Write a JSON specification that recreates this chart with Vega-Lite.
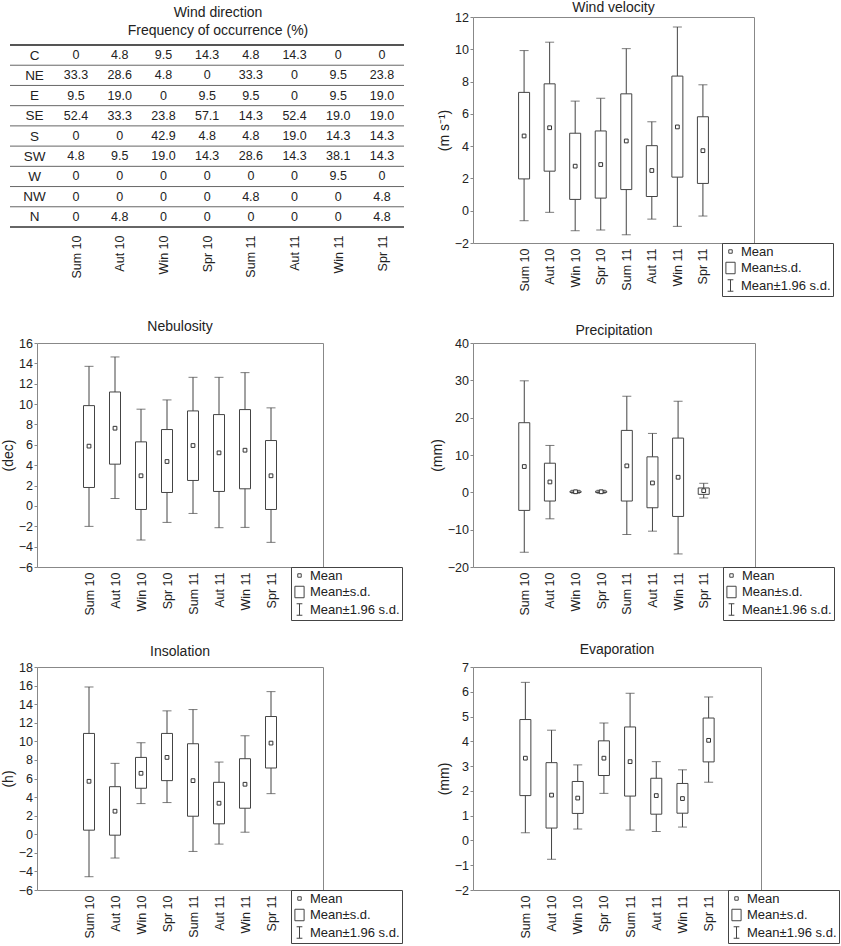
{
  "$schema": "https://vega.github.io/schema/vega-lite/v6.json",
  "padding": {"left": 0, "top": 0, "right": 0, "bottom": 0},
  "bounds": "flush",
  "columns": 2,
  "spacing": {"row": 100, "column": 150},
  "resolve": {"scale": {"shape": "independent"}, "legend": {"shape": "independent"}},
  "config": {
    "font": "Liberation Sans",
    "view": {"stroke": "#888", "strokeWidth": 1},
    "axis": {"labelFont": "Liberation Sans", "labelFontSize": 12.5, "labelColor": "#222", "titleFont": "Liberation Sans", "titleFontSize": 14, "titleFontWeight": "normal", "titleColor": "#222", "grid": false, "domain": false, "tickColor": "#888", "tickSize": 3, "labelPadding": 1.5, "titlePadding": 3, "labelOverlap": false},
    "title": {"font": "Liberation Sans", "fontSize": 14, "fontWeight": "normal", "color": "#222", "anchor": "middle", "offset": 2},
    "legend": {"orient": "none", "strokeColor": "#444", "padding": 2, "labelFont": "Liberation Sans", "labelFontSize": 13, "labelColor": "#222", "symbolSize": 132, "symbolStrokeWidth": 1, "rowPadding": 0.5, "labelOffset": 4}
  },
  "datasets": {
    "legendItems": [{"item": "Mean"}, {"item": "Mean±s.d."}, {"item": "Mean±1.96 s.d."}],
    "windDir": [
      {"dir": "C", "season": "Sum 10", "pct": 0}, {"dir": "C", "season": "Aut 10", "pct": 4.8}, {"dir": "C", "season": "Win 10", "pct": 9.5}, {"dir": "C", "season": "Spr 10", "pct": 14.3}, {"dir": "C", "season": "Sum 11", "pct": 4.8}, {"dir": "C", "season": "Aut 11", "pct": 14.3}, {"dir": "C", "season": "Win 11", "pct": 0}, {"dir": "C", "season": "Spr 11", "pct": 0},
      {"dir": "NE", "season": "Sum 10", "pct": 33.3}, {"dir": "NE", "season": "Aut 10", "pct": 28.6}, {"dir": "NE", "season": "Win 10", "pct": 4.8}, {"dir": "NE", "season": "Spr 10", "pct": 0}, {"dir": "NE", "season": "Sum 11", "pct": 33.3}, {"dir": "NE", "season": "Aut 11", "pct": 0}, {"dir": "NE", "season": "Win 11", "pct": 9.5}, {"dir": "NE", "season": "Spr 11", "pct": 23.8},
      {"dir": "E", "season": "Sum 10", "pct": 9.5}, {"dir": "E", "season": "Aut 10", "pct": 19.0}, {"dir": "E", "season": "Win 10", "pct": 0}, {"dir": "E", "season": "Spr 10", "pct": 9.5}, {"dir": "E", "season": "Sum 11", "pct": 9.5}, {"dir": "E", "season": "Aut 11", "pct": 0}, {"dir": "E", "season": "Win 11", "pct": 9.5}, {"dir": "E", "season": "Spr 11", "pct": 19.0},
      {"dir": "SE", "season": "Sum 10", "pct": 52.4}, {"dir": "SE", "season": "Aut 10", "pct": 33.3}, {"dir": "SE", "season": "Win 10", "pct": 23.8}, {"dir": "SE", "season": "Spr 10", "pct": 57.1}, {"dir": "SE", "season": "Sum 11", "pct": 14.3}, {"dir": "SE", "season": "Aut 11", "pct": 52.4}, {"dir": "SE", "season": "Win 11", "pct": 19.0}, {"dir": "SE", "season": "Spr 11", "pct": 19.0},
      {"dir": "S", "season": "Sum 10", "pct": 0}, {"dir": "S", "season": "Aut 10", "pct": 0}, {"dir": "S", "season": "Win 10", "pct": 42.9}, {"dir": "S", "season": "Spr 10", "pct": 4.8}, {"dir": "S", "season": "Sum 11", "pct": 4.8}, {"dir": "S", "season": "Aut 11", "pct": 19.0}, {"dir": "S", "season": "Win 11", "pct": 14.3}, {"dir": "S", "season": "Spr 11", "pct": 14.3},
      {"dir": "SW", "season": "Sum 10", "pct": 4.8}, {"dir": "SW", "season": "Aut 10", "pct": 9.5}, {"dir": "SW", "season": "Win 10", "pct": 19.0}, {"dir": "SW", "season": "Spr 10", "pct": 14.3}, {"dir": "SW", "season": "Sum 11", "pct": 28.6}, {"dir": "SW", "season": "Aut 11", "pct": 14.3}, {"dir": "SW", "season": "Win 11", "pct": 38.1}, {"dir": "SW", "season": "Spr 11", "pct": 14.3},
      {"dir": "W", "season": "Sum 10", "pct": 0}, {"dir": "W", "season": "Aut 10", "pct": 0}, {"dir": "W", "season": "Win 10", "pct": 0}, {"dir": "W", "season": "Spr 10", "pct": 0}, {"dir": "W", "season": "Sum 11", "pct": 0}, {"dir": "W", "season": "Aut 11", "pct": 0}, {"dir": "W", "season": "Win 11", "pct": 9.5}, {"dir": "W", "season": "Spr 11", "pct": 0},
      {"dir": "NW", "season": "Sum 10", "pct": 0}, {"dir": "NW", "season": "Aut 10", "pct": 0}, {"dir": "NW", "season": "Win 10", "pct": 0}, {"dir": "NW", "season": "Spr 10", "pct": 0}, {"dir": "NW", "season": "Sum 11", "pct": 4.8}, {"dir": "NW", "season": "Aut 11", "pct": 0}, {"dir": "NW", "season": "Win 11", "pct": 0}, {"dir": "NW", "season": "Spr 11", "pct": 4.8},
      {"dir": "N", "season": "Sum 10", "pct": 0}, {"dir": "N", "season": "Aut 10", "pct": 4.8}, {"dir": "N", "season": "Win 10", "pct": 0}, {"dir": "N", "season": "Spr 10", "pct": 0}, {"dir": "N", "season": "Sum 11", "pct": 0}, {"dir": "N", "season": "Aut 11", "pct": 0}, {"dir": "N", "season": "Win 11", "pct": 0}, {"dir": "N", "season": "Spr 11", "pct": 4.8}
    ],
    "stats": [
      {"var": "wind", "season": "Sum 10", "mean": 4.63, "sdLo": 1.97, "sdHi": 7.33, "lo": -0.62, "hi": 9.92},
      {"var": "wind", "season": "Aut 10", "mean": 5.14, "sdLo": 2.45, "sdHi": 7.86, "lo": -0.10, "hi": 10.44},
      {"var": "wind", "season": "Win 10", "mean": 2.76, "sdLo": 0.70, "sdHi": 4.80, "lo": -1.24, "hi": 6.79},
      {"var": "wind", "season": "Spr 10", "mean": 2.86, "sdLo": 0.78, "sdHi": 4.94, "lo": -1.20, "hi": 6.96},
      {"var": "wind", "season": "Sum 11", "mean": 4.32, "sdLo": 1.31, "sdHi": 7.24, "lo": -1.49, "hi": 10.04},
      {"var": "wind", "season": "Aut 11", "mean": 2.49, "sdLo": 0.88, "sdHi": 4.03, "lo": -0.52, "hi": 5.51},
      {"var": "wind", "season": "Win 11", "mean": 5.19, "sdLo": 2.08, "sdHi": 8.34, "lo": -0.97, "hi": 11.38},
      {"var": "wind", "season": "Spr 11", "mean": 3.72, "sdLo": 1.69, "sdHi": 5.82, "lo": -0.33, "hi": 7.80},
      {"var": "neb", "season": "Sum 10", "mean": 5.87, "sdLo": 1.81, "sdHi": 9.85, "lo": -2.01, "hi": 13.71},
      {"var": "neb", "season": "Aut 10", "mean": 7.63, "sdLo": 4.10, "sdHi": 11.19, "lo": 0.73, "hi": 14.63},
      {"var": "neb", "season": "Win 10", "mean": 2.96, "sdLo": -0.35, "sdHi": 6.29, "lo": -3.35, "hi": 9.50},
      {"var": "neb", "season": "Spr 10", "mean": 4.36, "sdLo": 1.32, "sdHi": 7.50, "lo": -1.62, "hi": 10.41},
      {"var": "neb", "season": "Sum 11", "mean": 5.93, "sdLo": 2.50, "sdHi": 9.33, "lo": -0.74, "hi": 12.63},
      {"var": "neb", "season": "Aut 11", "mean": 5.21, "sdLo": 1.42, "sdHi": 8.97, "lo": -2.14, "hi": 12.63},
      {"var": "neb", "season": "Win 11", "mean": 5.47, "sdLo": 1.68, "sdHi": 9.46, "lo": -2.11, "hi": 13.09},
      {"var": "neb", "season": "Spr 11", "mean": 2.96, "sdLo": -0.35, "sdHi": 6.42, "lo": -3.58, "hi": 9.63},
      {"var": "prec", "season": "Sum 10", "mean": 6.91, "sdLo": -4.84, "sdHi": 18.65, "lo": -16.05, "hi": 29.87},
      {"var": "prec", "season": "Aut 10", "mean": 2.78, "sdLo": -2.33, "sdHi": 7.80, "lo": -7.09, "hi": 12.56},
      {"var": "prec", "season": "Win 10", "mean": 0.15, "sdLo": -0.05, "sdHi": 0.35, "lo": -0.25, "hi": 0.55},
      {"var": "prec", "season": "Spr 10", "mean": 0.15, "sdLo": -0.05, "sdHi": 0.35, "lo": -0.25, "hi": 0.55},
      {"var": "prec", "season": "Sum 11", "mean": 7.09, "sdLo": -2.33, "sdHi": 16.59, "lo": -11.30, "hi": 25.74},
      {"var": "prec", "season": "Aut 11", "mean": 2.51, "sdLo": -4.13, "sdHi": 9.51, "lo": -10.40, "hi": 15.78},
      {"var": "prec", "season": "Win 11", "mean": 4.04, "sdLo": -6.46, "sdHi": 14.53, "lo": -16.50, "hi": 24.40},
      {"var": "prec", "season": "Spr 11", "mean": 0.45, "sdLo": -0.54, "sdHi": 1.17, "lo": -1.52, "hi": 2.42},
      {"var": "ins", "season": "Sum 10", "mean": 5.70, "sdLo": 0.44, "sdHi": 10.85, "lo": -4.57, "hi": 15.85},
      {"var": "ins", "season": "Aut 10", "mean": 2.48, "sdLo": -0.10, "sdHi": 5.12, "lo": -2.56, "hi": 7.63},
      {"var": "ins", "season": "Win 10", "mean": 6.56, "sdLo": 4.95, "sdHi": 8.27, "lo": 3.30, "hi": 9.85},
      {"var": "ins", "season": "Spr 10", "mean": 8.27, "sdLo": 5.77, "sdHi": 10.85, "lo": 3.41, "hi": 13.28},
      {"var": "ins", "season": "Sum 11", "mean": 5.77, "sdLo": 1.94, "sdHi": 9.74, "lo": -1.85, "hi": 13.42},
      {"var": "ins", "season": "Aut 11", "mean": 3.34, "sdLo": 1.12, "sdHi": 5.59, "lo": -1.06, "hi": 7.77},
      {"var": "ins", "season": "Win 11", "mean": 5.38, "sdLo": 2.80, "sdHi": 8.13, "lo": 0.22, "hi": 10.60},
      {"var": "ins", "season": "Spr 11", "mean": 9.81, "sdLo": 7.13, "sdHi": 12.67, "lo": 4.37, "hi": 15.35},
      {"var": "evap", "season": "Sum 10", "mean": 3.32, "sdLo": 1.81, "sdHi": 4.88, "lo": 0.31, "hi": 6.38},
      {"var": "evap", "season": "Aut 10", "mean": 1.83, "sdLo": 0.50, "sdHi": 3.14, "lo": -0.76, "hi": 4.45},
      {"var": "evap", "season": "Win 10", "mean": 1.71, "sdLo": 1.09, "sdHi": 2.38, "lo": 0.46, "hi": 3.05},
      {"var": "evap", "season": "Spr 10", "mean": 3.32, "sdLo": 2.62, "sdHi": 4.02, "lo": 1.90, "hi": 4.74},
      {"var": "evap", "season": "Sum 11", "mean": 3.18, "sdLo": 1.79, "sdHi": 4.58, "lo": 0.42, "hi": 5.94},
      {"var": "evap", "season": "Aut 11", "mean": 1.81, "sdLo": 1.06, "sdHi": 2.51, "lo": 0.36, "hi": 3.18},
      {"var": "evap", "season": "Win 11", "mean": 1.69, "sdLo": 1.10, "sdHi": 2.30, "lo": 0.54, "hi": 2.85},
      {"var": "evap", "season": "Spr 11", "mean": 4.04, "sdLo": 3.17, "sdHi": 4.94, "lo": 2.35, "hi": 5.79}
    ]
  },
  "concat": [
    {
      "title": {"text": ["Wind direction", "Frequency of occurrence (%)"], "dx": 38, "dy": 21, "offset": 0, "lineHeight": 18},
      "width": 286, "height": 216,
      "view": {"stroke": null},
      "data": {"name": "windDir"},
      "layer": [
        {
          "mark": {"type": "text", "fontSize": 12.5, "color": "#222", "baseline": "middle"},
          "encoding": {
            "x": {"field": "season", "type": "nominal", "scale": {"type": "point", "domain": ["Sum 10", "Aut 10", "Win 10", "Spr 10", "Sum 11", "Aut 11", "Win 11", "Spr 11"], "range": [39, 345], "padding": 0}, "axis": {"orient": "bottom", "labelAngle": -90, "ticks": false, "domain": false, "labelPadding": 2, "title": null}},
            "y": {"field": "dir", "type": "nominal", "scale": {"type": "point", "domain": ["C", "NE", "E", "SE", "S", "SW", "W", "NW", "N"], "range": [28, 210], "padding": 0.5}, "axis": {"labelAlign": "center", "labelPadding": 3, "ticks": false, "domain": false, "title": null, "labelFontSize": 13.5}},
            "text": {"condition": {"test": "datum.pct === 0", "value": "0"}, "field": "pct", "type": "quantitative", "format": ".1f"}
          }
        },
        {
          "transform": [{"filter": "datum.season === 'Sum 10'"}],
          "mark": {"type": "rule", "color": "#666", "yOffset": 10.11, "xOffset": -66, "x2Offset": 22},
          "encoding": {
            "x": {"datum": "Sum 10", "type": "nominal"},
            "x2": {"datum": "Spr 11"},
            "y": {"field": "dir", "type": "nominal"},
            "strokeWidth": {"condition": {"test": "datum.dir === 'N'", "value": 2}, "value": 1}
          }
        },
        {
          "transform": [{"filter": "datum.season === 'Sum 10' && datum.dir === 'C'"}],
          "mark": {"type": "rule", "color": "#555", "strokeWidth": 2, "yOffset": -10.11, "xOffset": -66, "x2Offset": 22},
          "encoding": {
            "x": {"datum": "Sum 10", "type": "nominal"},
            "x2": {"datum": "Spr 11"},
            "y": {"field": "dir", "type": "nominal"}
          }
        }
      ]
    },
    {
      "title": {"text": "Wind velocity", "offset": -3.5},
      "width": 281, "height": 226,
      "data": {"name": "stats"},
      "transform": [{"filter": "datum.var === 'wind'"}],
      "layer": [
        {"mark": {"type": "rule", "color": "#444"}, "encoding": {
          "x": {"field": "season", "type": "nominal", "scale": {"type": "point", "domain": [" ", "Sum 10", "Aut 10", "Win 10", "Spr 10", "Sum 11", "Aut 11", "Win 11", "Spr 11", "  "], "padding": 1}, "axis": {"labelAngle": -90, "ticks": false, "labelPadding": 5, "title": null, "values": ["Sum 10", "Aut 10", "Win 10", "Spr 10", "Sum 11", "Aut 11", "Win 11", "Spr 11"]}},
          "y": {"field": "lo", "type": "quantitative", "title": "(m s⁻¹)", "scale": {"domain": [-2, 12], "nice": false, "zero": false}, "axis": {"values": [-2, 0, 2, 4, 6, 8, 10, 12], "tickCount": 40, "format": "d"}},
          "y2": {"field": "hi"}}},
        {"mark": {"type": "tick", "color": "#444", "size": 9, "thickness": 1}, "encoding": {"x": {"field": "season", "type": "nominal"}, "y": {"field": "hi", "type": "quantitative", "title": "(m s⁻¹)", "scale": {"domain": [-2, 12], "nice": false, "zero": false}}}},
        {"mark": {"type": "tick", "color": "#444", "size": 9, "thickness": 1}, "encoding": {"x": {"field": "season", "type": "nominal"}, "y": {"field": "lo", "type": "quantitative", "title": "(m s⁻¹)", "scale": {"domain": [-2, 12], "nice": false, "zero": false}}}},
        {"mark": {"type": "bar", "width": 11, "fill": "white", "stroke": "#444", "strokeWidth": 1}, "encoding": {"x": {"field": "season", "type": "nominal"}, "y": {"field": "sdLo", "type": "quantitative", "title": "(m s⁻¹)", "scale": {"domain": [-2, 12], "nice": false, "zero": false}}, "y2": {"field": "sdHi"}}},
        {"mark": {"type": "point", "shape": "square", "size": 14, "filled": true, "fill": "white", "stroke": "#333", "strokeWidth": 1, "opacity": 1}, "encoding": {"x": {"field": "season", "type": "nominal"}, "y": {"field": "mean", "type": "quantitative", "title": "(m s⁻¹)", "scale": {"domain": [-2, 12], "nice": false, "zero": false}}}},
        {"data": {"name": "legendItems"}, "mark": {"type": "point", "opacity": 0, "color": "#444", "filled": false}, "encoding": {"shape": {"field": "item", "type": "nominal", "scale": {"domain": ["Mean", "Mean±s.d.", "Mean±1.96 s.d."], "range": ["M-0.3,-0.3H0.3V0.3H-0.3Z", "M-0.8,-1H0.8V1H-0.8Z", "M-0.5,-1H0.5M0,-1V1M-0.5,1H0.5"]}, "legend": {"title": null, "legendX": 249, "legendY": 226, "encode": {"symbols": {"update": {"opacity": {"value": 1}}}}}}}}
      ]
    },
    {
      "title": {"text": "Nebulosity", "offset": 3},
      "width": 286, "height": 224,
      "data": {"name": "stats"},
      "transform": [{"filter": "datum.var === 'neb'"}],
      "layer": [
        {"mark": {"type": "rule", "color": "#444"}, "encoding": {
          "x": {"field": "season", "type": "nominal", "scale": {"type": "point", "domain": [" ", "Sum 10", "Aut 10", "Win 10", "Spr 10", "Sum 11", "Aut 11", "Win 11", "Spr 11", "  "], "padding": 1}, "axis": {"labelAngle": -90, "ticks": false, "labelPadding": 5, "title": null, "values": ["Sum 10", "Aut 10", "Win 10", "Spr 10", "Sum 11", "Aut 11", "Win 11", "Spr 11"]}},
          "y": {"field": "lo", "type": "quantitative", "title": "(dec)", "scale": {"domain": [-6, 16], "nice": false, "zero": false}, "axis": {"values": [-6, -4, -2, 0, 2, 4, 6, 8, 10, 12, 14, 16], "tickCount": 40, "format": "d"}},
          "y2": {"field": "hi"}}},
        {"mark": {"type": "tick", "color": "#444", "size": 9, "thickness": 1}, "encoding": {"x": {"field": "season", "type": "nominal"}, "y": {"field": "hi", "type": "quantitative", "title": "(dec)", "scale": {"domain": [-6, 16], "nice": false, "zero": false}}}},
        {"mark": {"type": "tick", "color": "#444", "size": 9, "thickness": 1}, "encoding": {"x": {"field": "season", "type": "nominal"}, "y": {"field": "lo", "type": "quantitative", "title": "(dec)", "scale": {"domain": [-6, 16], "nice": false, "zero": false}}}},
        {"mark": {"type": "bar", "width": 11, "fill": "white", "stroke": "#444", "strokeWidth": 1}, "encoding": {"x": {"field": "season", "type": "nominal"}, "y": {"field": "sdLo", "type": "quantitative", "title": "(dec)", "scale": {"domain": [-6, 16], "nice": false, "zero": false}}, "y2": {"field": "sdHi"}}},
        {"mark": {"type": "point", "shape": "square", "size": 14, "filled": true, "fill": "white", "stroke": "#333", "strokeWidth": 1, "opacity": 1}, "encoding": {"x": {"field": "season", "type": "nominal"}, "y": {"field": "mean", "type": "quantitative", "title": "(dec)", "scale": {"domain": [-6, 16], "nice": false, "zero": false}}}},
        {"data": {"name": "legendItems"}, "mark": {"type": "point", "opacity": 0, "color": "#444", "filled": false}, "encoding": {"shape": {"field": "item", "type": "nominal", "scale": {"domain": ["Mean", "Mean±s.d.", "Mean±1.96 s.d."], "range": ["M-0.3,-0.3H0.3V0.3H-0.3Z", "M-0.8,-1H0.8V1H-0.8Z", "M-0.5,-1H0.5M0,-1V1M-0.5,1H0.5"]}, "legend": {"title": null, "legendX": 254, "legendY": 224, "encode": {"symbols": {"update": {"opacity": {"value": 1}}}}}}}}
      ]
    },
    {
      "title": {"text": "Precipitation", "offset": -1},
      "width": 282, "height": 224,
      "data": {"name": "stats"},
      "transform": [{"filter": "datum.var === 'prec'"}],
      "layer": [
        {"mark": {"type": "rule", "color": "#444"}, "encoding": {
          "x": {"field": "season", "type": "nominal", "scale": {"type": "point", "domain": [" ", "Sum 10", "Aut 10", "Win 10", "Spr 10", "Sum 11", "Aut 11", "Win 11", "Spr 11", "  "], "padding": 1}, "axis": {"labelAngle": -90, "ticks": false, "labelPadding": 5, "title": null, "values": ["Sum 10", "Aut 10", "Win 10", "Spr 10", "Sum 11", "Aut 11", "Win 11", "Spr 11"]}},
          "y": {"field": "lo", "type": "quantitative", "title": "(mm)", "scale": {"domain": [-20, 40], "nice": false, "zero": false}, "axis": {"values": [-20, -10, 0, 10, 20, 30, 40], "tickCount": 40, "format": "d"}},
          "y2": {"field": "hi"}}},
        {"mark": {"type": "tick", "color": "#444", "size": 9, "thickness": 1}, "encoding": {"x": {"field": "season", "type": "nominal"}, "y": {"field": "hi", "type": "quantitative", "title": "(mm)", "scale": {"domain": [-20, 40], "nice": false, "zero": false}}}},
        {"mark": {"type": "tick", "color": "#444", "size": 9, "thickness": 1}, "encoding": {"x": {"field": "season", "type": "nominal"}, "y": {"field": "lo", "type": "quantitative", "title": "(mm)", "scale": {"domain": [-20, 40], "nice": false, "zero": false}}}},
        {"mark": {"type": "bar", "width": 11, "fill": "white", "stroke": "#444", "strokeWidth": 1}, "encoding": {"x": {"field": "season", "type": "nominal"}, "y": {"field": "sdLo", "type": "quantitative", "title": "(mm)", "scale": {"domain": [-20, 40], "nice": false, "zero": false}}, "y2": {"field": "sdHi"}}},
        {"mark": {"type": "point", "shape": "square", "size": 14, "filled": true, "fill": "white", "stroke": "#333", "strokeWidth": 1, "opacity": 1}, "encoding": {"x": {"field": "season", "type": "nominal"}, "y": {"field": "mean", "type": "quantitative", "title": "(mm)", "scale": {"domain": [-20, 40], "nice": false, "zero": false}}}},
        {"data": {"name": "legendItems"}, "mark": {"type": "point", "opacity": 0, "color": "#444", "filled": false}, "encoding": {"shape": {"field": "item", "type": "nominal", "scale": {"domain": ["Mean", "Mean±s.d.", "Mean±1.96 s.d."], "range": ["M-0.3,-0.3H0.3V0.3H-0.3Z", "M-0.8,-1H0.8V1H-0.8Z", "M-0.5,-1H0.5M0,-1V1M-0.5,1H0.5"]}, "legend": {"title": null, "legendX": 250, "legendY": 224, "encode": {"symbols": {"update": {"opacity": {"value": 1}}}}}}}}
      ]
    },
    {
      "title": {"text": "Insolation", "offset": 2},
      "width": 286, "height": 223,
      "data": {"name": "stats"},
      "transform": [{"filter": "datum.var === 'ins'"}],
      "layer": [
        {"mark": {"type": "rule", "color": "#444"}, "encoding": {
          "x": {"field": "season", "type": "nominal", "scale": {"type": "point", "domain": [" ", "Sum 10", "Aut 10", "Win 10", "Spr 10", "Sum 11", "Aut 11", "Win 11", "Spr 11", "  "], "padding": 1}, "axis": {"labelAngle": -90, "ticks": false, "labelPadding": 5, "title": null, "values": ["Sum 10", "Aut 10", "Win 10", "Spr 10", "Sum 11", "Aut 11", "Win 11", "Spr 11"]}},
          "y": {"field": "lo", "type": "quantitative", "title": "(h)", "scale": {"domain": [-6, 18], "nice": false, "zero": false}, "axis": {"values": [-6, -4, -2, 0, 2, 4, 6, 8, 10, 12, 14, 16, 18], "tickCount": 40, "format": "d"}},
          "y2": {"field": "hi"}}},
        {"mark": {"type": "tick", "color": "#444", "size": 9, "thickness": 1}, "encoding": {"x": {"field": "season", "type": "nominal"}, "y": {"field": "hi", "type": "quantitative", "title": "(h)", "scale": {"domain": [-6, 18], "nice": false, "zero": false}}}},
        {"mark": {"type": "tick", "color": "#444", "size": 9, "thickness": 1}, "encoding": {"x": {"field": "season", "type": "nominal"}, "y": {"field": "lo", "type": "quantitative", "title": "(h)", "scale": {"domain": [-6, 18], "nice": false, "zero": false}}}},
        {"mark": {"type": "bar", "width": 11, "fill": "white", "stroke": "#444", "strokeWidth": 1}, "encoding": {"x": {"field": "season", "type": "nominal"}, "y": {"field": "sdLo", "type": "quantitative", "title": "(h)", "scale": {"domain": [-6, 18], "nice": false, "zero": false}}, "y2": {"field": "sdHi"}}},
        {"mark": {"type": "point", "shape": "square", "size": 14, "filled": true, "fill": "white", "stroke": "#333", "strokeWidth": 1, "opacity": 1}, "encoding": {"x": {"field": "season", "type": "nominal"}, "y": {"field": "mean", "type": "quantitative", "title": "(h)", "scale": {"domain": [-6, 18], "nice": false, "zero": false}}}},
        {"data": {"name": "legendItems"}, "mark": {"type": "point", "opacity": 0, "color": "#444", "filled": false}, "encoding": {"shape": {"field": "item", "type": "nominal", "scale": {"domain": ["Mean", "Mean±s.d.", "Mean±1.96 s.d."], "range": ["M-0.3,-0.3H0.3V0.3H-0.3Z", "M-0.8,-1H0.8V1H-0.8Z", "M-0.5,-1H0.5M0,-1V1M-0.5,1H0.5"]}, "legend": {"title": null, "legendX": 254, "legendY": 223, "encode": {"symbols": {"update": {"opacity": {"value": 1}}}}}}}}
      ]
    },
    {
      "title": {"text": "Evaporation", "offset": 4},
      "width": 288, "height": 223,
      "data": {"name": "stats"},
      "transform": [{"filter": "datum.var === 'evap'"}],
      "layer": [
        {"mark": {"type": "rule", "color": "#444"}, "encoding": {
          "x": {"field": "season", "type": "nominal", "scale": {"type": "point", "domain": [" ", "Sum 10", "Aut 10", "Win 10", "Spr 10", "Sum 11", "Aut 11", "Win 11", "Spr 11", "  "], "padding": 1}, "axis": {"labelAngle": -90, "ticks": false, "labelPadding": 5, "title": null, "values": ["Sum 10", "Aut 10", "Win 10", "Spr 10", "Sum 11", "Aut 11", "Win 11", "Spr 11"]}},
          "y": {"field": "lo", "type": "quantitative", "title": "(mm)", "scale": {"domain": [-2, 7], "nice": false, "zero": false}, "axis": {"values": [-2, -1, 0, 1, 2, 3, 4, 5, 6, 7], "tickCount": 40, "format": "d"}},
          "y2": {"field": "hi"}}},
        {"mark": {"type": "tick", "color": "#444", "size": 9, "thickness": 1}, "encoding": {"x": {"field": "season", "type": "nominal"}, "y": {"field": "hi", "type": "quantitative", "title": "(mm)", "scale": {"domain": [-2, 7], "nice": false, "zero": false}}}},
        {"mark": {"type": "tick", "color": "#444", "size": 9, "thickness": 1}, "encoding": {"x": {"field": "season", "type": "nominal"}, "y": {"field": "lo", "type": "quantitative", "title": "(mm)", "scale": {"domain": [-2, 7], "nice": false, "zero": false}}}},
        {"mark": {"type": "bar", "width": 11, "fill": "white", "stroke": "#444", "strokeWidth": 1}, "encoding": {"x": {"field": "season", "type": "nominal"}, "y": {"field": "sdLo", "type": "quantitative", "title": "(mm)", "scale": {"domain": [-2, 7], "nice": false, "zero": false}}, "y2": {"field": "sdHi"}}},
        {"mark": {"type": "point", "shape": "square", "size": 14, "filled": true, "fill": "white", "stroke": "#333", "strokeWidth": 1, "opacity": 1}, "encoding": {"x": {"field": "season", "type": "nominal"}, "y": {"field": "mean", "type": "quantitative", "title": "(mm)", "scale": {"domain": [-2, 7], "nice": false, "zero": false}}}},
        {"data": {"name": "legendItems"}, "mark": {"type": "point", "opacity": 0, "color": "#444", "filled": false}, "encoding": {"shape": {"field": "item", "type": "nominal", "scale": {"domain": ["Mean", "Mean±s.d.", "Mean±1.96 s.d."], "range": ["M-0.3,-0.3H0.3V0.3H-0.3Z", "M-0.8,-1H0.8V1H-0.8Z", "M-0.5,-1H0.5M0,-1V1M-0.5,1H0.5"]}, "legend": {"title": null, "legendX": 255, "legendY": 223, "encode": {"symbols": {"update": {"opacity": {"value": 1}}}}}}}}
      ]
    }
  ]
}
